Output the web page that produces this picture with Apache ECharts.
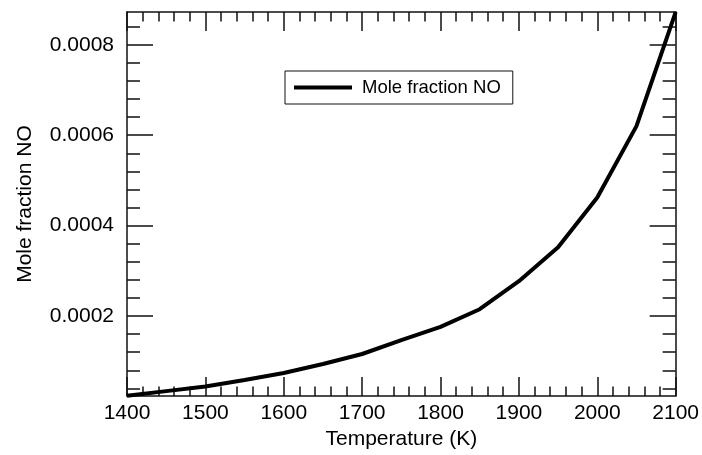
<!DOCTYPE html>
<html>
<head>
<meta charset="utf-8">
<script src="https://cdn.jsdelivr.net/npm/echarts@6/dist/echarts.min.js"></script>
<style>
html,body{margin:0;padding:0;background:#fff;}
#c{width:702px;height:455px;}
</style>
</head>
<body>
<div id="c"></div>
<script>
const temperatures = [1400, 1450, 1500, 1550, 1600, 1650, 1700, 1750, 1800, 1850, 1900, 1950, 2000, 2050, 2100];
const moleFractionNO = [0.0000235, 0.0000339, 0.0000442, 0.0000587, 0.0000741, 0.0000938, 0.0001160, 0.0001465, 0.0001760, 0.0002150, 0.0002770, 0.0003520, 0.0004620, 0.0006200, 0.0008720];
const seriesName = 'Mole fraction NO';
const xTickValues = [1400, 1500, 1600, 1700, 1800, 1900, 2000, 2100];
const yMajorTicks = [0.0002, 0.0004, 0.0006, 0.0008];
const yMinorTicks = [0.00004, 0.00008, 0.00012, 0.00016, 0.00024, 0.00028, 0.00032, 0.00036,
  0.00044, 0.00048, 0.00052, 0.00056, 0.00064, 0.00068, 0.00072, 0.00076, 0.00084];
const xRange = [1400, 2100];
const yRange = [0.0000229, 0.0008724];

const FONT = '"Liberation Sans", Arial, Helvetica, sans-serif';
const chart = echarts.init(document.getElementById('c'), null, {renderer: 'canvas'});

function xAx(pos, labels) {
  return {
    type: 'value', position: pos, min: xRange[0], max: xRange[1], interval: 100,
    axisLine: {show: true, onZero: false, lineStyle: {color: '#111', width: 1.5}},
    axisTick: {show: true, inside: true, length: 19, lineStyle: {color: '#111', width: 1.5}},
    minorTick: {show: true, splitNumber: 5, length: 9.5, lineStyle: {color: '#111', width: 1.5}},
    splitLine: {show: false},
    axisLabel: {show: labels, margin: 7, fontSize: 21, color: '#000', fontFamily: FONT,
      showMinLabel: true, showMaxLabel: true, customValues: xTickValues,
      formatter: v => String(v)},
    name: labels ? 'Temperature (K)' : '', nameLocation: 'middle', nameGap: 31,
    nameTextStyle: {fontSize: 21, color: '#000', fontFamily: FONT}
  };
}
function yAx(pos, values, len, labels, withLine) {
  return {
    type: 'value', position: pos, min: yRange[0], max: yRange[1],
    axisLine: {show: withLine, onZero: false, lineStyle: {color: '#111', width: 1.5}},
    axisTick: {show: true, inside: true, length: len, customValues: values, lineStyle: {color: '#111', width: 1.5}},
    minorTick: {show: false},
    splitLine: {show: false},
    axisLabel: {show: labels, margin: 13, fontSize: 21, color: '#000', fontFamily: FONT,
      customValues: values, formatter: v => v.toFixed(4)},
    name: labels ? 'Mole fraction NO' : '', nameLocation: 'middle', nameGap: 91,
    nameTextStyle: {fontSize: 21, color: '#000', fontFamily: FONT}
  };
}

chart.setOption({
  animation: false,
  backgroundColor: '#fff',
  grid: {left: 127, right: 24, top: 12, bottom: 56, containLabel: false},
  legend: {
    show: true, left: 285, top: 71, orient: 'horizontal',
    padding: [7, 12, 7, 9],
    borderColor: '#111', borderWidth: 1, backgroundColor: '#fff',
    itemWidth: 58, itemHeight: 4,
    data: [{name: seriesName, icon: 'rect'}],
    textStyle: {fontSize: 18.5, color: '#000', fontFamily: FONT, padding: [0, 0, 0, 5]}
  },
  xAxis: [xAx('bottom', true), xAx('top', false)],
  yAxis: [
    yAx('left', yMajorTicks, 26, true, true),
    yAx('left', yMinorTicks, 13, false, false),
    yAx('right', yMajorTicks, 26, false, true),
    yAx('right', yMinorTicks, 13, false, false)
  ],
  series: [{
    name: seriesName, type: 'line', xAxisIndex: 0, yAxisIndex: 0,
    data: temperatures.map((t, i) => [t, moleFractionNO[i]]),
    showSymbol: false, symbol: 'none',
    itemStyle: {color: '#000'},
    lineStyle: {color: '#000', width: 4},
    clip: true
  }]
});
</script>
</body>
</html>
